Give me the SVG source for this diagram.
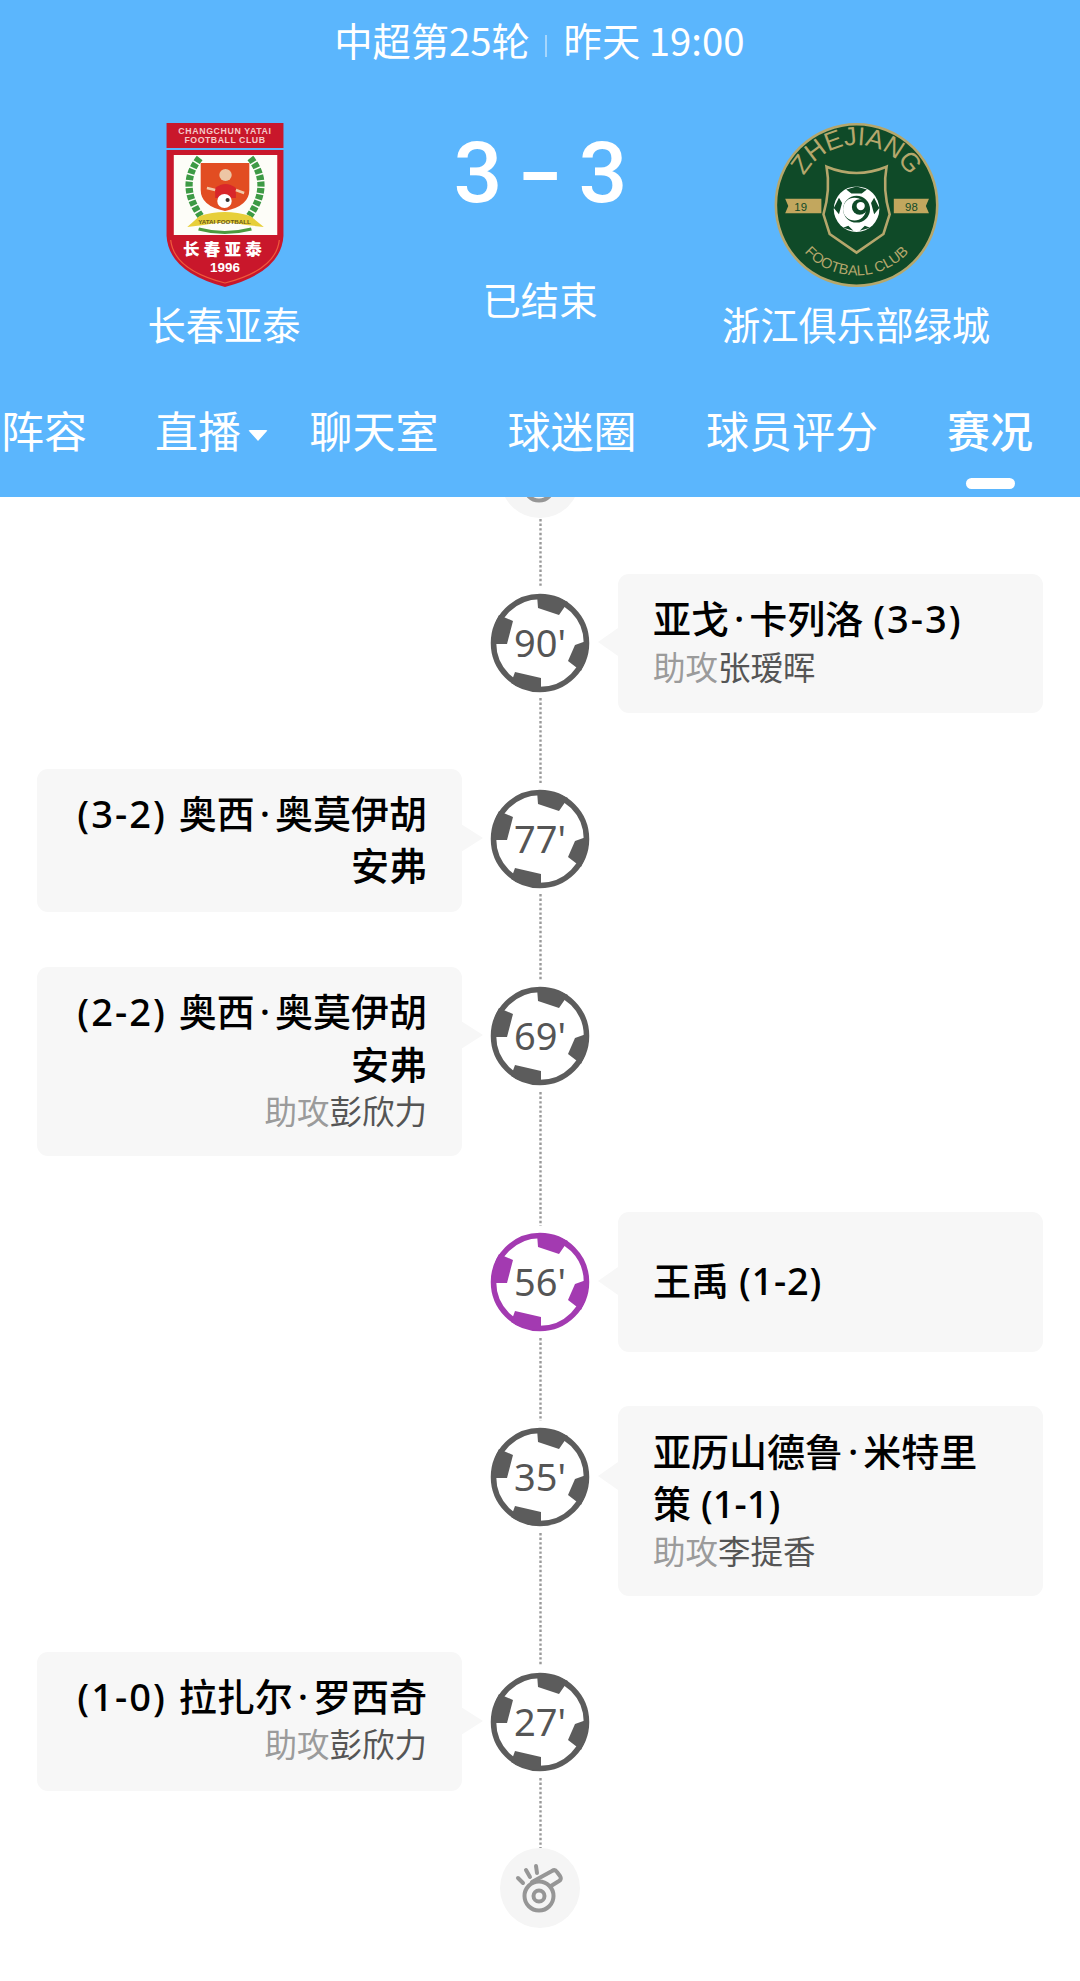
<svg xmlns="http://www.w3.org/2000/svg" width="1080" height="1981" viewBox="0 0 1080 1981">
<style>
text{font-family:"Noto Sans CJK SC","Noto Sans",sans-serif}
.hd{fill:#fff;font-size:38.3px;font-weight:400;text-anchor:middle}
.nav{fill:#fff;font-size:43px;font-weight:400;text-anchor:middle}
.card{fill:#f7f7f7}
.nm{fill:#000;font-size:38px;font-weight:500;font-family:"Noto Sans","Noto Sans CJK SC",sans-serif}
.ls{letter-spacing:2px}
.r{text-anchor:end}
.as{font-size:32.5px;fill:#9b9b9b;font-weight:400}
.as tspan{fill:#555}
.min{font-family:"Noto Sans",sans-serif;font-size:38px;fill:#555;text-anchor:middle}
.ball{color:#5c5c5c}
.pen{color:#a33ab1}
.conn{stroke:#999;stroke-width:2.4;stroke-dasharray:2.4 2.2;fill:none}
.w{fill:none;stroke:#969696;stroke-width:4;stroke-linecap:round;stroke-linejoin:round}
.sc{fill:#fff;font-size:86px;font-weight:500;text-anchor:middle;font-family:Roboto,sans-serif}
.lb{font-family:"Liberation Sans",sans-serif}
</style>
<defs>
<g id="ballshape">
<circle r="46.5" fill="#fff" stroke="currentColor" stroke-width="5.5"/>
<path fill="currentColor" d="M-3-48L-2-35 19-28 28-41Q12-49-3-48ZM-41-28L-27-22-33 1-48 1Q-48-16-41-28ZM49-3L35 2 28 18 41 28Q49 12 49-3ZM-25 29L1 35 1 48Q-16 48-29 40Z"/>
</g>
<g id="whistle">
<circle r="40" fill="#f5f5f5"/>
<circle class="w" cx="-1" cy="8" r="14.5"/>
<circle class="w" cx="-1" cy="8" r="5.5"/>
<path class="w" d="M-8-6L12-17Q15-19 17-16L20-12Q22-9 19-7L11-2"/>
<path class="w" d="M-22-10L-17-5M-14-18L-10-11M-4-22L-3-15"/>
</g>
<path id="zjTop" d="M788 205A58 58 0 0 1 904 205"/>
<path id="zjBot" d="M778 205A68 68 0 0 0 914 205"/>
</defs>
<rect width="1080" height="1981" fill="#fff"/>

<g id="whistle-top"><use href="#whistle" x="540" y="478"/></g>

<g id="connectors">
<path class="conn" d="M540.500 519V588M540.500 698V783M540.500 894V980M540.500 1092V1226M540.500 1338V1421M540.500 1533V1666M540.500 1778V1848"/>
</g>

<g id="header">
<rect width="1080" height="497" fill="#5bb6fd"/>
<text class="hd" x="432" y="56">中超第25轮</text>
<rect x="545" y="35" width="2" height="22" fill="#a5d6fd"/>
<text class="hd" x="654" y="56">昨天 19:00</text>
<text class="sc" x="478" y="202">3</text>
<text class="sc" transform="translate(540.500 202) scale(1.5 1)">-</text>
<text class="sc" x="603" y="202">3</text>
<text class="hd" x="540" y="315">已结束</text>
<text class="hd" x="224" y="340">长春亚泰</text>
<text class="hd" x="856" y="340">浙江俱乐部绿城</text>
</g>

<g id="badge-home" transform="scale(1.0345 1)">
<rect x="161" y="123" width="113" height="25" fill="#c9172b"/>
<path d="M161 150H274V236Q272 272 217.500 287Q163 272 161 236Z" fill="#c9172b"/>
<path d="M168 155H268V235H168Z" fill="#fdfdf8"/>
<path d="M165 240Q168 270 217.500 283Q267 270 270 240" fill="none" stroke="#ef5b3c" stroke-width="1.200"/>
<path d="M194 163H241V190Q241 206 217.500 211Q194 206 194 190Z" fill="#e24d22"/>
<path d="M193 158Q172 185 194 216" fill="none" stroke="#3d9a45" stroke-width="7" stroke-dasharray="5 1.500"/>
<path d="M242 158Q263 185 241 216" fill="none" stroke="#3d9a45" stroke-width="7" stroke-dasharray="5 1.500"/>
<path d="M181 227L193 216Q217 208 242 216L255 227 238 225Q217 220 197 225Z" fill="#e7cf3a"/>
<path d="M192 229Q217 236 243 229" fill="none" stroke="#4c9a3f" stroke-width="3"/>
<circle cx="218" cy="175" r="6" fill="#edc6a5"/>
<path d="M208 188Q218 180 228 188L228 198H208Z" fill="#d8262a"/>
<path d="M200 188L208 190M228 190L236 193" stroke="#f2c9a8" stroke-width="2.500"/>
<circle cx="217" cy="201" r="7" fill="#fff"/>
<circle cx="220" cy="200" r="2" fill="#333"/>
<text class="lb" x="217.500" y="134" fill="#f4c9c9" font-size="8.500" font-weight="700" text-anchor="middle" letter-spacing=".6">CHANGCHUN YATAI</text>
<text class="lb" x="217.500" y="143" fill="#f4c9c9" font-size="8.500" font-weight="700" text-anchor="middle" letter-spacing=".5">FOOTBALL CLUB</text>
<text class="lb" x="217" y="224" fill="#6a5a18" font-size="6" font-weight="700" text-anchor="middle">YATAI FOOTBALL</text>
<text x="217" y="255" fill="#fff" font-size="16" font-weight="900" text-anchor="middle" letter-spacing="4">长春亚泰</text>
<text class="lb" x="217.500" y="272" fill="#fff" font-size="13" font-weight="700" text-anchor="middle">1996</text>
</g>

<g id="badge-away" transform="translate(540 205) scale(1.0345) translate(-540 -205)">
<circle cx="846" cy="205" r="78" fill="#0f4a28" stroke="#b5a76c" stroke-width="2.500"/>
<path d="M817 168Q846 180 875 168Q871 190 878 214L872 233 846 251 820 233 814 214Q821 190 817 168Z" fill="none" stroke="#b5a76c" stroke-width="2.500"/>
<path d="M777 199H812V213H777L780 206Z" fill="#c2a75e"/>
<path d="M882 199H916L913 206 916 213H882Z" fill="#c2a75e"/>
<circle cx="846" cy="209" r="22" fill="#fff"/>
<path d="M846 187L856 190 851 194 841 194 836 190ZM824 208L829 198 832 203 829 214ZM868 208L863 198 860 203 863 214ZM833 227L843 230 838 225ZM859 227L849 230 854 225Z" fill="#0f4a28"/>
<circle cx="846" cy="209" r="13" fill="#0f4a28"/>
<circle cx="844" cy="209" r="11" fill="#fff"/>
<circle cx="849" cy="207" r="7.500" fill="#0f4a28"/>
<circle cx="850" cy="206" r="4" fill="#fff"/>
<text class="lb" x="792" y="211" fill="#0f4a28" font-size="11" text-anchor="middle">19</text>
<text class="lb" x="899" y="211" fill="#0f4a28" font-size="11" text-anchor="middle">98</text>
<text class="lb" fill="#b5a76c" font-size="25" text-anchor="middle"><textPath href="#zjTop" startOffset="50%">ZHEJIANG</textPath></text>
<text class="lb" fill="#b5a76c" font-size="14" text-anchor="middle"><textPath href="#zjBot" startOffset="50%">FOOTBALL CLUB</textPath></text>
</g>

<g id="tabs">
<text class="nav" x="44" y="448">阵容</text>
<text class="nav" x="198" y="448">直播</text>
<path d="M258 441L249 431Q248 430 250 430H266Q268 430 267 431Z" fill="#fff"/>
<text class="nav" x="374" y="448">聊天室</text>
<text class="nav" x="572" y="448">球迷圈</text>
<text class="nav" x="792" y="448">球员评分</text>
<text class="nav" x="990" y="448" style="font-weight:500">赛况</text>
<rect x="966" y="478" width="49" height="11" rx="5.500" fill="#fff"/>
</g>

<g id="event-90">
<path class="card" d="M598 642L618 628V656Z"/><rect class="card" x="618" y="574" width="425" height="139" rx="11"/>
<text class="nm" x="653" y="633">亚戈<tspan dx="5">·</tspan><tspan dx="5">卡列洛 </tspan><tspan class="ls">(3-3)</tspan></text>
<text class="as" x="653" y="680">助攻<tspan>张瑷晖</tspan></text>
<use href="#ballshape" x="540" y="643" class="ball"/><text class="min" x="540" y="657">90'</text>
</g>
<g id="event-77">
<path class="card" d="M483 838L461 824V852Z"/><rect class="card" x="37" y="769" width="425" height="143" rx="11"/>
<text class="nm r" x="427" y="828"><tspan class="ls">(3-2) </tspan>奥西<tspan dx="5">·</tspan><tspan dx="5">奥莫伊胡</tspan></text>
<text class="nm r" x="427" y="880">安弗</text>
<use href="#ballshape" x="540" y="839" class="ball"/><text class="min" x="540" y="853">77'</text>
</g>
<g id="event-69">
<path class="card" d="M483 1035L461 1021V1049Z"/><rect class="card" x="37" y="967" width="425" height="189" rx="11"/>
<text class="nm r" x="427" y="1026"><tspan class="ls">(2-2) </tspan>奥西<tspan dx="5">·</tspan><tspan dx="5">奥莫伊胡</tspan></text>
<text class="nm r" x="427" y="1079">安弗</text>
<text class="as r" x="427" y="1124">助攻<tspan>彭欣力</tspan></text>
<use href="#ballshape" x="540" y="1036" class="ball"/><text class="min" x="540" y="1050">69'</text>
</g>
<g id="event-56">
<path class="card" d="M598 1281L618 1267V1295Z"/><rect class="card" x="618" y="1212" width="425" height="140" rx="11"/>
<text class="nm" x="653" y="1295">王禹 <tspan style="letter-spacing:.8px">(1-2)</tspan></text>
<use href="#ballshape" x="540" y="1282" class="pen"/><text class="min" x="540" y="1296">56'</text>
</g>
<g id="event-35">
<path class="card" d="M598 1476L618 1462V1490Z"/><rect class="card" x="618" y="1406" width="425" height="190" rx="11"/>
<text class="nm" x="653" y="1466">亚历山德鲁<tspan dx="5">·</tspan><tspan dx="5">米特里</tspan></text>
<text class="nm" x="653" y="1518">策 (1-1)</text>
<text class="as" x="653" y="1564">助攻<tspan>李提香</tspan></text>
<use href="#ballshape" x="540" y="1477" class="ball"/><text class="min" x="540" y="1491">35'</text>
</g>
<g id="event-27">
<path class="card" d="M483 1721L461 1707V1735Z"/><rect class="card" x="37" y="1652" width="425" height="139" rx="11"/>
<text class="nm r" x="427" y="1711"><tspan class="ls">(1-0) </tspan>拉扎尔<tspan dx="5">·</tspan><tspan dx="5">罗西奇</tspan></text>
<text class="as r" x="427" y="1757">助攻<tspan>彭欣力</tspan></text>
<use href="#ballshape" x="540" y="1722" class="ball"/><text class="min" x="540" y="1736">27'</text>
</g>
<g id="whistle-end"><use href="#whistle" x="540" y="1888"/></g>
</svg>
